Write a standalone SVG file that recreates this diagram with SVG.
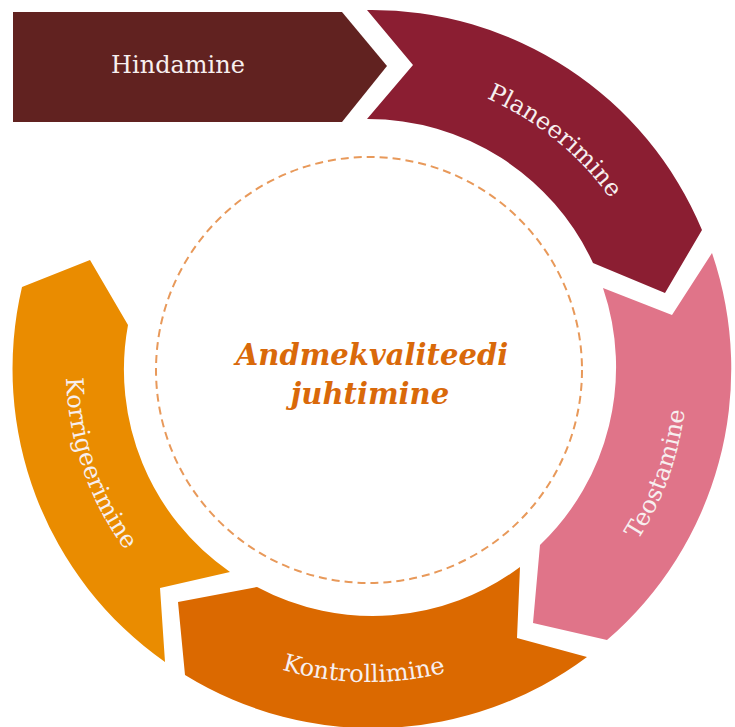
<svg xmlns="http://www.w3.org/2000/svg" width="735" height="727" viewBox="0 0 735 727">
<style>
.lbl{font-family:"DejaVu Serif","Liberation Serif",serif;font-size:24px;fill:#F7EFEF;}
.ctr{font-family:"DejaVu Serif","Liberation Serif",serif;font-size:29px;font-weight:bold;font-style:italic;fill:#D9690A;text-anchor:middle;}
</style>
<defs>
<path id="pPlan" d="M 363.8 74 A 296 296 0 0 1 659.6 313.5"/>
<path id="pTeo" d="M 530.7 642.6 A 312 312 0 0 0 667.3 263.3"/>
<path id="pKon" d="M 164.3 605.5 A 312 312 0 0 0 565.4 612.5"/>
<path id="pKor" d="M 86.1 261.4 A 303 303 0 0 0 212.9 629.7"/>
</defs>
<rect width="735" height="727" fill="#FFFFFF"/>
<g id="center">
<circle cx="369" cy="370" r="213" fill="none" stroke="#E8995A" stroke-width="2" stroke-dasharray="8 5"/>
<text class="ctr" x="372" y="365">Andmekvaliteedi</text>
<text class="ctr" x="370" y="404">juhtimine</text>
</g>
<g id="hindamine">
<polygon points="13,12 342,12 387,66 342,122 13,122" fill="#612220"/>
<text class="lbl" x="178" y="73" text-anchor="middle" font-size="25">Hindamine</text>
</g>
<g id="planeerimine">
<path d="M 367 10 A 358 358 0 0 1 702 230 L 665 293 L 593 263 A 248 248 0 0 0 367 119 L 413 65 Z" fill="#8B1E32"/>
<text class="lbl"><textPath href="#pPlan" startOffset="50%" text-anchor="middle">Planeerimine</textPath></text>
</g>
<g id="teostamine">
<path d="M 712 253 A 358 358 0 0 1 607 640 L 533 623 L 540 545 A 246 246 0 0 0 603 288 L 672 315 Z" fill="#E07489"/>
<text class="lbl"><textPath href="#pTeo" startOffset="50%" text-anchor="middle">Teostamine</textPath></text>
</g>
<g id="kontrollimine">
<path d="M 587 657 A 358 358 0 0 1 185 675 L 178 602 L 257 587 A 246 246 0 0 0 520 567 L 517 638 Z" fill="#DB6900"/>
<text class="lbl"><textPath href="#pKon" startOffset="50%" text-anchor="middle">Kontrollimine</textPath></text>
</g>
<g id="korrigeerimine">
<path d="M 165 662 A 358 358 0 0 1 22 287 L 90 260 L 128 325 A 246 246 0 0 0 230 572 L 160 588 Z" fill="#EA8C00"/>
<text class="lbl"><textPath href="#pKor" startOffset="50%" text-anchor="middle">Korrigeerimine</textPath></text>
</g>
<g id="connectors"></g>
</svg>
